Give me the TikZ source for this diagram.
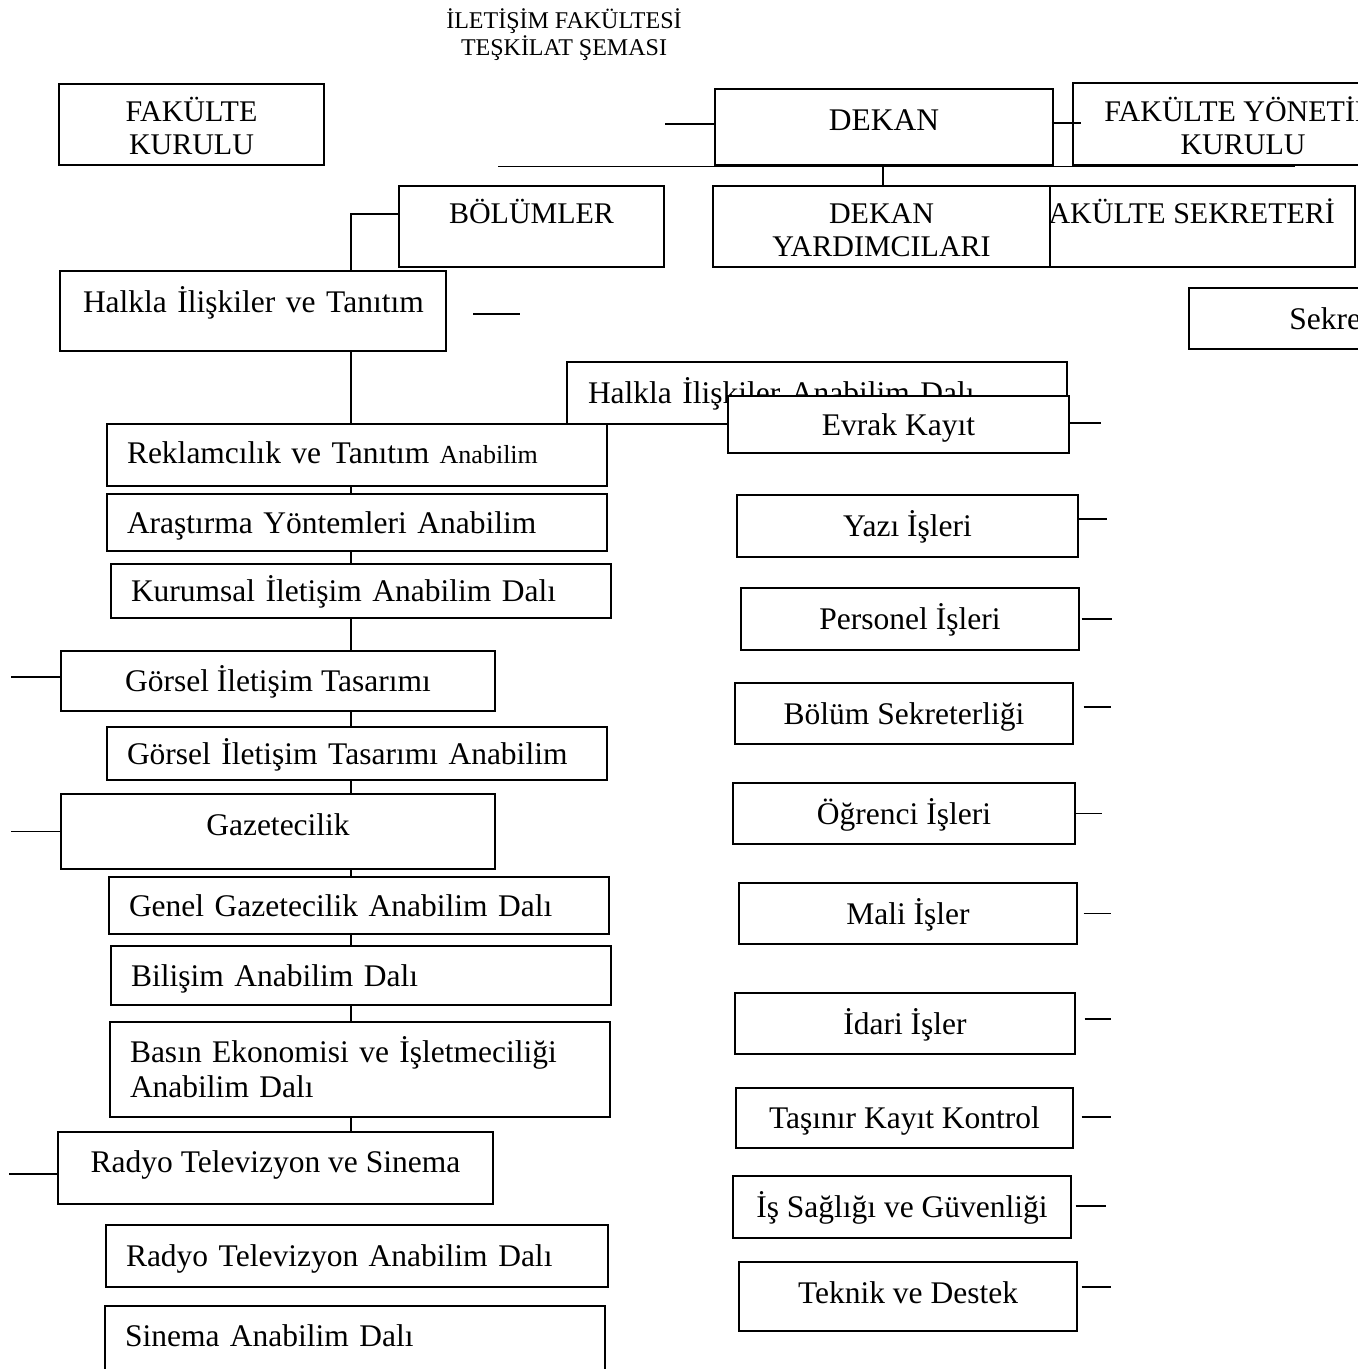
\documentclass[tikz,border=0pt]{standalone}
\usepackage{fontspec}
\setmainfont{Liberation Serif}
\usetikzlibrary{backgrounds}
\tikzstyle{unit}=[draw, fill=white, line width=1.2pt, inner sep=0pt, align=center, text height=21pt, text depth=0pt, font=\fontsize{31.5}{35}\selectfont]
\tikzstyle{left unit}=[unit, align=left, inner xsep=20pt, text width=460pt]
\tikzstyle{head unit}=[unit, text height=20pt, font=\fontsize{30}{33}\selectfont]
\tikzstyle{bold unit}=[line width=2pt]
\tikzstyle{link}=[line width=1.2pt]

\begin{document}
\begin{tikzpicture}[x=1pt, y=-1pt]
  \useasboundingbox (0,0) rectangle (1358,1369);
  \clip (0,0) rectangle (1358,1369);

  \node[font=\fontsize{24}{27}\selectfont, align=center, inner sep=0pt, text height=43pt, text depth=0pt] (title) at (564,33.5) {İLETİŞİM FAKÜLTESİ\\TEŞKİLAT ŞEMASI};

  % top level
  \node[head unit, minimum width=265pt, minimum height=81pt, text height=59pt] (fk) at (191.5,124.5) {FAKÜLTE\\KURULU};
  \node[unit, minimum width=338pt, minimum height=76pt, text depth=14pt] (dekan) at (884,127) {DEKAN};
  \node[head unit, minimum width=340pt, minimum height=82pt, text height=60pt] (fyk) at (1243,124) {FAKÜLTE YÖNETİM\\KURULU};
  \node[head unit, bold unit, minimum width=305pt, minimum height=81pt, text depth=27pt] (fs) at (1202.5,226.5) {\hspace*{-36pt}FAKÜLTE SEKRETERİ};
  \node[head unit, bold unit, minimum width=337pt, minimum height=81pt, text height=59pt] (dy) at (881.5,226.5) {DEKAN\\YARDIMCILARI};
  \node[head unit, minimum width=265pt, minimum height=81pt, text depth=27pt] (bol) at (531.5,226.5) {BÖLÜMLER};
  \node[unit, minimum width=339pt, minimum height=61pt] (sekr) at (1358.5,318.5) {Sekreterlik};

  % departments
  \node[left unit, bold unit, inner xsep=23pt, text width=340pt, minimum height=80pt, text depth=18pt] (hit) at (253,311) {\mbox{Halkla İlişkiler ve Tanıtım}};
  \node[left unit, minimum height=62pt, text depth=4pt] (rek) at (357,455) {Reklamcılık ve Tanıtım {\fontsize{26}{30}\selectfont Anabilim}};
  \node[left unit, minimum height=57pt] (ara) at (357,522.5) {Araştırma Yöntemleri Anabilim};
  \node[left unit, minimum height=54pt] (kur) at (361,591) {Kurumsal İletişim Anabilim Dalı};
  \node[unit, minimum width=434pt, minimum height=60pt] (git) at (278,681) {Görsel İletişim Tasarımı};
  \node[left unit, minimum height=53pt] (gita) at (357,753.5) {Görsel İletişim Tasarımı Anabilim};
  \node[unit, minimum width=434pt, minimum height=75pt, text depth=13pt] (gaz) at (278,831.5) {Gazetecilik};
  \node[left unit, minimum height=57pt] (ggad) at (359,905.5) {Genel Gazetecilik Anabilim Dalı};
  \node[left unit, minimum height=59pt] (bil) at (361,975.5) {Bilişim Anabilim Dalı};
  \node[left unit, minimum height=95pt, text depth=35pt] (basin) at (360,1069.5) {Basın Ekonomisi ve İşletmeciliği\\Anabilim Dalı};
  \node[unit, minimum width=435pt, minimum height=72pt, text depth=12pt] (rts) at (275.5,1168) {Radyo Televizyon ve Sinema};
  \node[left unit, text width=462pt, minimum height=62pt] (rtad) at (357,1256) {Radyo Televizyon Anabilim Dalı};
  \node[left unit, minimum height=80pt, text depth=20pt] (sin) at (355,1346) {Sinema Anabilim Dalı};

  % secretariat units
  \node[left unit, inner xsep=21pt, text width=458pt, minimum height=62pt] (had) at (817,393) {Halkla İlişkiler Anabilim Dalı};
  \node[unit, minimum width=341pt, minimum height=57pt] (evrak) at (898.5,424.5) {Evrak Kayıt};
  \node[unit, minimum width=341pt, minimum height=62pt] (yazi) at (907.5,526) {Yazı İşleri};
  \node[unit, minimum width=338pt, minimum height=62pt] (pers) at (910,619) {Personel İşleri};
  \node[unit, minimum width=338pt, minimum height=61pt] (bsek) at (904,713.5) {Bölüm Sekreterliği};
  \node[unit, minimum width=342pt, minimum height=61pt] (ogr) at (904,813.5) {Öğrenci İşleri};
  \node[unit, minimum width=338pt, minimum height=61pt] (mali) at (908,913.5) {Mali İşler};
  \node[unit, minimum width=340pt, minimum height=61pt] (idari) at (905,1023.5) {İdari İşler};
  \node[unit, minimum width=337pt, minimum height=60pt] (tas) at (904.5,1118) {Taşınır Kayıt Kontrol};
  \node[unit, minimum width=338pt, minimum height=62pt] (isg) at (902,1207) {İş Sağlığı ve Güvenliği};
  \node[unit, minimum width=338pt, minimum height=69pt, text depth=7pt] (tek) at (908,1296.5) {Teknik ve Destek};

  \begin{scope}[on background layer]
    \fill[white] (0,0) rectangle (1358,1369);
    \coordinate (spine) at (351,0);
    \draw[link] ([yshift=12.5pt]bol.west) -| (rts.north -| spine);
  \end{scope}

  \draw[link] ([yshift=3pt]dekan.west) -- ++(-49,0);
  \draw[link] (dekan.south) ++(-386,1) -- ++(797,0);
  \draw[link] (dekan.south) ++(-1,0) -- (dy.north -| 883,0);
  \draw[link] (dekan.east) ++(-2,-4) -- ++(29,0);
  \draw[link] (hit.east) ++(26,3) -- ++(47,0);
  \draw[link] ([yshift=4pt]git.west) -- ++(-49,0);
  \draw[link] (gaz.west) -- ++(-49,0);
  \draw[link] ([yshift=-6pt]rts.west) -- ++(-48,0);
  \draw[link] (evrak.east) ++(0,-1.5) -- ++(31,0);
  \draw[link] (yazi.east) ++(0,-7) -- ++(28,0);
  \draw[link] (pers.east) ++(2,0) -- ++(30,0);
  \draw[link] (bsek.east) ++(10,-6.5) -- ++(27,0);
  \draw[link] (ogr.east) -- ++(26,0);
  \draw[link] (mali.east) ++(6,0) -- ++(27,0);
  \draw[link] (idari.east) ++(9,-4.5) -- ++(26,0);
  \draw[link] (tas.east) ++(8,-1) -- ++(29,0);
  \draw[link] (isg.east) ++(4,-1) -- ++(30,0);
  \draw[link] (tek.east) ++(4,-9.5) -- ++(29,0);
\end{tikzpicture}
\end{document}
